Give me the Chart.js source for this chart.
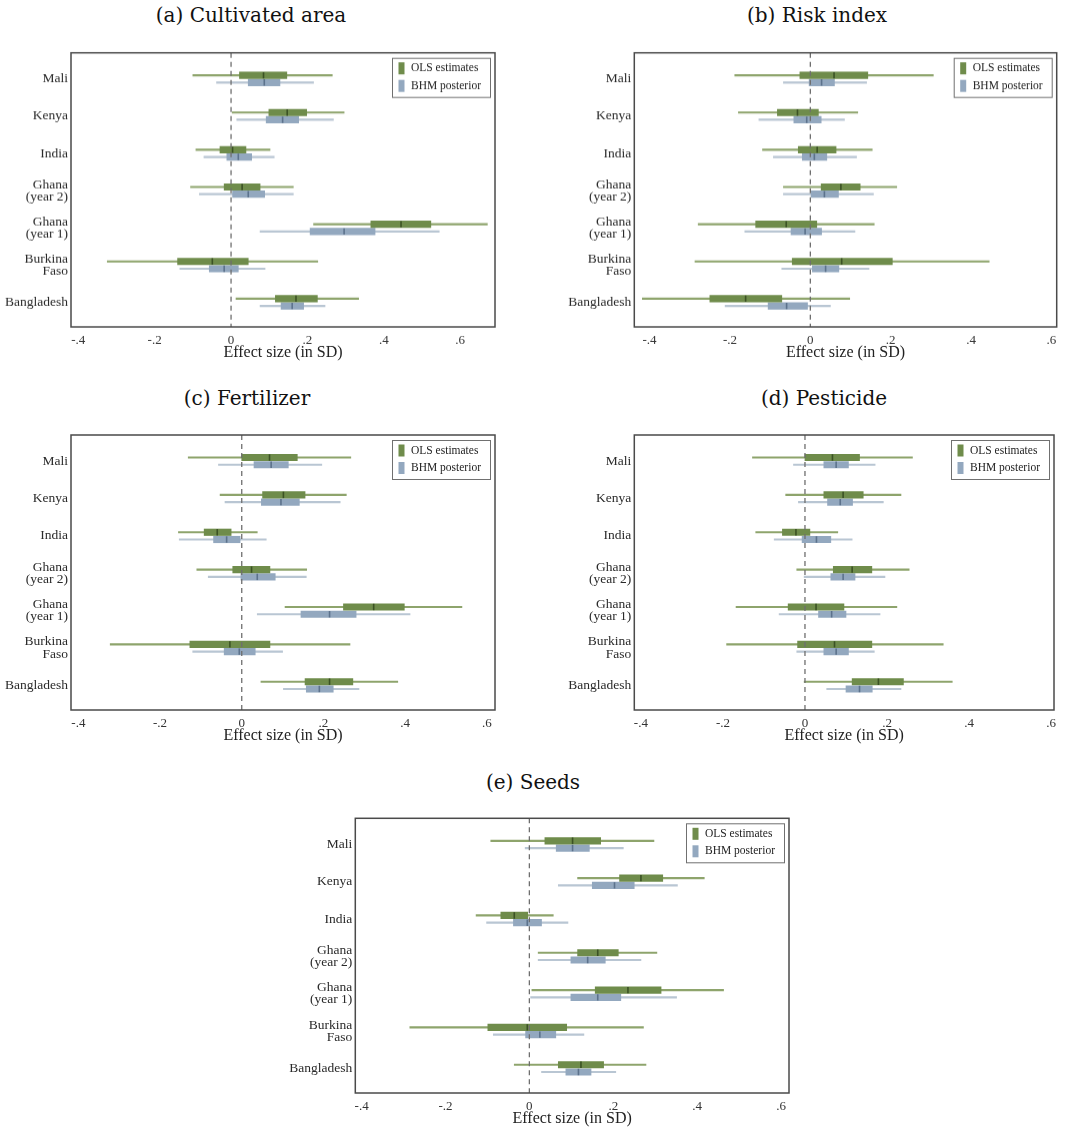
<!DOCTYPE html>
<html>
<head>
<meta charset="utf-8">
<script src="https://cdn.jsdelivr.net/npm/chart.js@4.4.1/dist/chart.umd.min.js"></script>
<style>
  body { margin: 0; background: #fff; width: 1070px; height: 1131px; position: relative; overflow: hidden; }
  canvas { position: absolute; }
  .ttl { position: absolute; font-family: 'DejaVu Serif'; font-size: 20px; color: #111; transform: translate(-50%, -50%); white-space: nowrap; }
</style>
</head>
<body>
<div class="ttl" style="left:251px;top:15px">(a) Cultivated area</div>
<div class="ttl" style="left:817px;top:15px">(b) Risk index</div>
<div class="ttl" style="left:247px;top:398px">(c) Fertilizer</div>
<div class="ttl" style="left:824px;top:398px">(d) Pesticide</div>
<div class="ttl" style="left:533px;top:782px">(e) Seeds</div>
<canvas id="pa"></canvas>
<canvas id="pb"></canvas>
<canvas id="pc"></canvas>
<canvas id="pd"></canvas>
<canvas id="pe"></canvas>
<script>
// categories, top to bottom
const countries = [['Mali'], ['Kenya'], ['India'], ['Ghana', '(year 2)'], ['Ghana', '(year 1)'], ['Burkina', 'Faso'], ['Bangladesh']];
const xTicks = [-0.4, -0.2, 0, 0.2, 0.4, 0.6];

// each row: [low whisker, box low, median, box high, high whisker]
const areaOls = [[-0.100, 0.022, 0.085, 0.146, 0.265], [0.003, 0.099, 0.147, 0.198, 0.296], [-0.092, -0.029, 0.004, 0.039, 0.102], [-0.106, -0.018, 0.029, 0.076, 0.163], [0.216, 0.366, 0.445, 0.523, 0.671], [-0.324, -0.140, -0.049, 0.045, 0.227], [0.013, 0.116, 0.170, 0.226, 0.334]];
const areaBhm = [[-0.038, 0.045, 0.087, 0.128, 0.216], [0.015, 0.092, 0.135, 0.177, 0.268], [-0.071, -0.011, 0.019, 0.054, 0.113], [-0.083, 0.004, 0.045, 0.088, 0.163], [0.076, 0.207, 0.296, 0.377, 0.545], [-0.134, -0.057, -0.018, 0.019, 0.089], [0.076, 0.131, 0.160, 0.190, 0.246]];

const riskOls = [[-0.188, -0.026, 0.059, 0.143, 0.306], [-0.179, -0.082, -0.032, 0.020, 0.118], [-0.119, -0.030, 0.017, 0.064, 0.154], [-0.067, 0.027, 0.076, 0.124, 0.215], [-0.279, -0.136, -0.060, 0.016, 0.159], [-0.287, -0.045, 0.078, 0.204, 0.445], [-0.418, -0.250, -0.161, -0.071, 0.098]];
const riskBhm = [[-0.067, -0.003, 0.028, 0.060, 0.140], [-0.128, -0.041, -0.009, 0.027, 0.085], [-0.092, -0.020, 0.010, 0.041, 0.115], [-0.067, 0.002, 0.035, 0.070, 0.157], [-0.163, -0.048, -0.013, 0.028, 0.111], [-0.071, 0.005, 0.038, 0.071, 0.146], [-0.212, -0.105, -0.059, -0.007, 0.050]];

const fertOls = [[-0.131, 0.000, 0.068, 0.136, 0.267], [-0.053, 0.051, 0.102, 0.155, 0.256], [-0.155, -0.092, -0.060, -0.026, 0.038], [-0.110, -0.022, 0.024, 0.069, 0.159], [0.106, 0.249, 0.323, 0.398, 0.539], [-0.322, -0.127, -0.029, 0.069, 0.265], [0.047, 0.155, 0.215, 0.272, 0.382]];
const fertBhm = [[-0.057, 0.030, 0.072, 0.114, 0.196], [-0.041, 0.048, 0.096, 0.141, 0.241], [-0.153, -0.069, -0.037, -0.004, 0.060], [-0.082, -0.002, 0.038, 0.082, 0.158], [0.038, 0.145, 0.215, 0.280, 0.412], [-0.120, -0.043, -0.006, 0.033, 0.100], [0.102, 0.158, 0.190, 0.224, 0.287]];

const pestOls = [[-0.128, 0.000, 0.067, 0.133, 0.262], [-0.047, 0.046, 0.093, 0.142, 0.234], [-0.120, -0.055, -0.022, 0.012, 0.080], [-0.020, 0.069, 0.115, 0.163, 0.254], [-0.168, -0.041, 0.027, 0.095, 0.224], [-0.191, -0.018, 0.072, 0.163, 0.337], [-0.002, 0.115, 0.179, 0.240, 0.359]];
const pestBhm = [[-0.028, 0.046, 0.076, 0.106, 0.171], [-0.016, 0.055, 0.086, 0.116, 0.191], [-0.075, -0.007, 0.028, 0.063, 0.115], [-0.002, 0.063, 0.093, 0.122, 0.195], [-0.063, 0.033, 0.065, 0.100, 0.183], [-0.020, 0.046, 0.076, 0.106, 0.169], [0.053, 0.100, 0.133, 0.164, 0.234]];

const seedOls = [[-0.092, 0.037, 0.103, 0.170, 0.297], [0.115, 0.215, 0.266, 0.318, 0.417], [-0.127, -0.068, -0.036, -0.004, 0.057], [0.021, 0.115, 0.163, 0.212, 0.304], [0.006, 0.157, 0.235, 0.314, 0.463], [-0.285, -0.099, -0.005, 0.089, 0.272], [-0.036, 0.069, 0.123, 0.177, 0.278]];
const seedBhm = [[-0.010, 0.064, 0.103, 0.143, 0.224], [0.069, 0.150, 0.203, 0.250, 0.353], [-0.102, -0.038, -0.005, 0.029, 0.092], [0.021, 0.099, 0.139, 0.181, 0.266], [0.003, 0.099, 0.163, 0.218, 0.351], [-0.086, -0.009, 0.025, 0.063, 0.130], [0.029, 0.087, 0.117, 0.147, 0.206]];

const olsColors = { box: '#6f8c4b', whisker: '#8ea46c', median: '#3b5224' };
const bhmColors = { box: '#93a8bf', whisker: '#b9c6d3', median: '#5c728c' };
const yMin = 0.3, yMax = 7.66, rowOffset = 0.097;

// frame round the plot area + legend box in the top right corner
const framePlugin = {
  id: 'frame',
  afterDraw(chart) {
    const a = chart.chartArea;
    const ctx = chart.ctx;
    ctx.save();
    ctx.strokeStyle = '#4a4a4a';
    ctx.lineWidth = 1.5;
    ctx.strokeRect(a.left, a.top, a.right - a.left, a.bottom - a.top);

    const bw = 98, bh = 39;
    const bx = a.right - 5 - bw, by = a.top + 5;
    ctx.fillStyle = '#fff';
    ctx.fillRect(bx, by, bw, bh);
    ctx.strokeStyle = '#707070';
    ctx.lineWidth = 1;
    ctx.strokeRect(bx + 0.5, by + 0.5, bw, bh);
    ctx.font = '11.5px "Liberation Serif"';
    ctx.textBaseline = 'middle';
    [['OLS estimates', olsColors.box, 10.5], ['BHM posterior', bhmColors.box, 28]].forEach(([txt, col, dy]) => {
      ctx.fillStyle = col;
      ctx.fillRect(bx + 6.5, by + dy - 6, 6, 12);
      ctx.fillStyle = '#222';
      ctx.fillText(txt, bx + 19, by + dy);
    });
    ctx.restore();
  }
};

function fmtTick(v) {
  if (v === 0) return '0';
  return (v < 0 ? '-' : '') + '.' + Math.round(Math.abs(v) * 10);
}

function buildPanel(id, ols, bhm, xmin, xmax, box) {
  const canvas = document.getElementById(id);
  const h = box.B + 40 - box.top;
  canvas.width = box.width;
  canvas.height = h;
  canvas.style.left = box.left + 'px';
  canvas.style.top = box.top + 'px';
  canvas.style.width = box.width + 'px';
  canvas.style.height = h + 'px';

  const series = (rows, off, colors, name) => [
    {
      type: 'bar', label: name + ' whisker', order: 3,
      data: rows.map((r, i) => ({ x: [r[0], r[4]], y: i + 1 + off })),
      backgroundColor: colors.whisker, maxBarThickness: 1.5
    },
    {
      type: 'bar', label: name, order: 2,
      data: rows.map((r, i) => ({ x: [r[1], r[3]], y: i + 1 + off })),
      backgroundColor: colors.box, maxBarThickness: 6.5
    },
    {
      type: 'scatter', label: name + ' median', order: 1,
      data: rows.map((r, i) => ({ x: r[2], y: i + 1 + off })),
      pointStyle: 'line', rotation: 90, radius: 3.2, borderColor: colors.median, borderWidth: 1.6
    }
  ];

  new Chart(canvas, {
    type: 'bar',
    data: {
      datasets: [
        ...series(ols, -rowOffset, olsColors, 'OLS estimates'),
        ...series(bhm, rowOffset, bhmColors, 'BHM posterior'),
        {
          type: 'line', label: 'zero', order: 0,
          data: [{ x: 0, y: yMin }, { x: 0, y: yMax }],
          borderColor: '#6e6e6e', borderWidth: 1.3, borderDash: [5, 4], pointRadius: 0
        }
      ]
    },
    options: {
      indexAxis: 'y',
      responsive: false,
      animation: false,
      grouped: false,
      barPercentage: 1,
      categoryPercentage: 1,
      layout: { padding: { left: 0, top: box.T - box.top, right: box.left + box.width - box.R, bottom: 0 } },
      plugins: { legend: { display: false }, tooltip: { enabled: false } },
      scales: {
        x: {
          type: 'linear', min: xmin, max: xmax, offset: false,
          afterBuildTicks: s => { s.ticks = xTicks.map(v => ({ value: v })); },
          afterFit: s => { s.height = 40; },
          grid: { display: false, drawTicks: false },
          border: { display: false },
          ticks: { padding: 6, color: '#333', font: { family: 'Liberation Serif', size: 13 }, callback: fmtTick },
          title: { display: true, text: 'Effect size (in SD)', color: '#222', font: { family: 'Liberation Serif', size: 16 }, padding: { top: 0, bottom: 5 } }
        },
        y: {
          type: 'linear', reverse: true, min: yMin, max: yMax, offset: false,
          afterBuildTicks: s => { s.ticks = countries.map((c, i) => ({ value: i + 1 })); },
          afterFit: s => { s.width = box.L - box.left; },
          grid: { display: false, drawTicks: false, offset: false },
          border: { display: false },
          ticks: { autoSkip: false, padding: 3, color: '#2a2a2a', font: { family: 'Liberation Serif', size: 13.5, lineHeight: 0.9 }, callback: v => countries[v - 1] }
        }
      }
    },
    plugins: [framePlugin]
  });
}

buildPanel('pa', areaOls, areaBhm, -0.419, 0.691, { left: 0, top: 30, width: 535, L: 71, T: 52.7, R: 495, B: 326.7 });
buildPanel('pb', riskOls, riskBhm, -0.438, 0.613, { left: 535, top: 30, width: 535, L: 634.3, T: 52.7, R: 1056.7, B: 326.7 });
buildPanel('pc', fertOls, fertBhm, -0.418, 0.620, { left: 0, top: 413, width: 535, L: 71, T: 435, R: 495, B: 710 });
buildPanel('pd', pestOls, pestBhm, -0.416, 0.607, { left: 535, top: 413, width: 535, L: 634.3, T: 435, R: 1054, B: 710 });
buildPanel('pe', seedOls, seedBhm, -0.415, 0.619, { left: 280, top: 796, width: 535, L: 355.3, T: 818.3, R: 789, B: 1093.3 });
</script>
</body>
</html>
